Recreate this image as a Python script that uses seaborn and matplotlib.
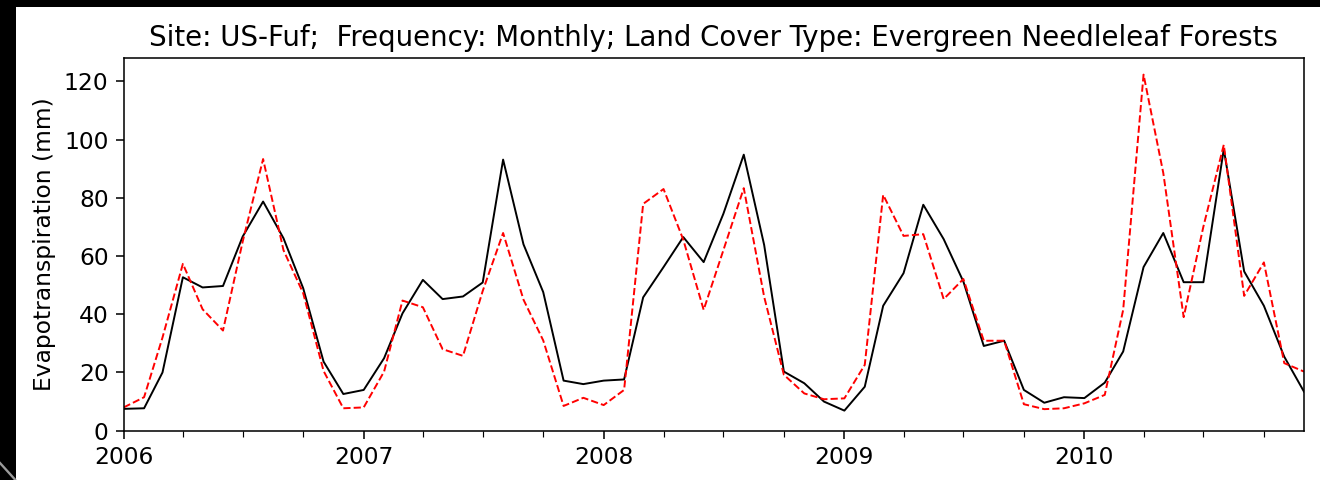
import matplotlib
matplotlib.use("Agg")
import matplotlib.pyplot as plt
import matplotlib.dates as mdates
from matplotlib.patches import Rectangle
from matplotlib.lines import Line2D
import numpy as np
import pandas as pd
import seaborn as sns

# Monthly evapotranspiration (mm), Jan 2006 - Dec 2010
months = pd.date_range("2006-01-01", "2010-12-01", freq="MS")

et_observed = [
    7.5, 7.7, 20.0, 52.7, 49.2, 49.7, 66.7, 78.7, 66.1, 48.9, 23.7, 12.6,
    14.0, 24.9, 40.3, 51.8, 45.2, 46.1, 50.9, 93.1, 64.0, 47.6, 17.2, 16.0,
    17.2, 17.6, 45.8, 56.2, 66.5, 57.9, 74.5, 94.8, 63.8, 20.3, 16.3, 10.0,
    6.9, 15.1, 42.9, 54.1, 77.6, 65.8, 51.2, 29.1, 30.9, 14.0, 9.6, 11.5,
    11.2, 16.5, 27.2, 56.2, 67.9, 51.0, 51.0, 96.7, 54.7, 42.9, 25.4, 13.4,
]

et_model = [
    8.0, 11.5, 32.0, 57.3, 41.7, 34.4, 65.0, 93.3, 62.0, 47.2, 20.5, 7.7,
    8.0, 20.3, 44.7, 42.4, 28.0, 25.7, 48.0, 67.9, 45.0, 31.0, 8.5, 11.3,
    8.8, 14.0, 77.9, 83.0, 65.6, 41.5, 62.0, 83.3, 46.0, 19.2, 12.8, 10.8,
    11.1, 22.6, 81.0, 66.9, 67.5, 45.2, 52.1, 30.9, 30.9, 9.1, 7.4, 7.7,
    9.4, 12.3, 41.5, 122.3, 88.5, 39.0, 70.1, 98.2, 46.3, 57.8, 23.2, 20.3,
]

title_text = "Site: US-Fuf;  Frequency: Monthly; Land Cover Type: Evergreen Needleleaf Forests"
ylabel_text = "Evapotranspiration (mm)"

df = pd.DataFrame({"date": months, "observed": et_observed, "model": et_model})

plt.rcParams["font.family"] = ["DejaVu Sans"]

dpi = 140
fig = plt.figure(figsize=(1320 / dpi, 480 / dpi), dpi=dpi, facecolor="black")

# white page area inside the dark frame
fig.add_artist(Rectangle((16 / 1320, 0), 1 - 16 / 1320, 1 - 7 / 480,
                         transform=fig.transFigure, facecolor="white",
                         edgecolor="none", zorder=-10))
fig.add_artist(Line2D([0, 15 / 1320], [1 - 463 / 480, 1 - 479.5 / 480],
                      transform=fig.transFigure, color="#9a9a9a", lw=1.2))

ax = fig.add_axes([123.7 / 1320, 1 - 430.7 / 480, (1304 - 123.7) / 1320,
                   (430.7 - 58) / 480])
ax.set_facecolor("white")

sns.lineplot(data=df, x="date", y="observed", ax=ax, color="black",
             linewidth=1.0)
sns.lineplot(data=df, x="date", y="model", ax=ax, color="red",
             linewidth=1.0, linestyle="--")

ax.set_xlim(months[0], months[-1])
ax.set_ylim(0, 128)
ax.set_yticks([0, 20, 40, 60, 80, 100, 120])
ax.xaxis.set_major_locator(mdates.YearLocator())
ax.xaxis.set_major_formatter(mdates.DateFormatter("%Y"))
ax.xaxis.set_minor_locator(mdates.MonthLocator(bymonth=[1, 4, 7, 10]))

ax.set_xlabel("")
ax.set_ylabel(ylabel_text, fontsize=12)
ax.set_title(title_text, fontsize=14.2)
ax.tick_params(axis="both", which="major", labelsize=12, length=4.3)
ax.tick_params(axis="x", which="minor", length=3)

fig.savefig("out.png", dpi=dpi, facecolor=fig.get_facecolor())
